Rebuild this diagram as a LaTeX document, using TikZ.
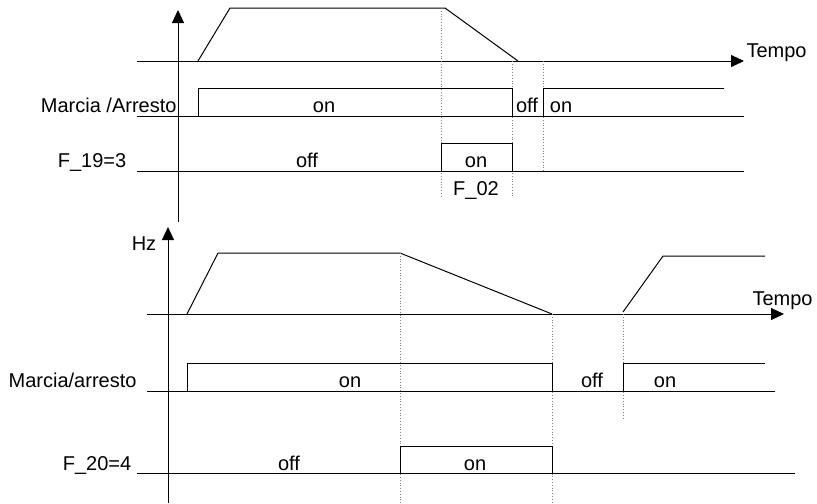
\documentclass[tikz,border=0pt]{standalone}
\usepackage{fontspec}
\setmainfont{Liberation Sans}
\usetikzlibrary{positioning,arrows.meta}
\newcommand\sigfont{\fontsize{10}{12}\selectfont}

\begin{document}
\begin{tikzpicture}[x=0.5pt,y=-0.5pt,line width=0.5pt,
  >={Triangle[length=6.5pt,width=6pt]},
  every node/.style={font=\sigfont,inner sep=0pt,anchor=base},
  guide/.style={densely dotted,gray,line width=0.4pt}]
\useasboundingbox (0,0) rectangle (817,503);
% upper chart
\coordinate (uy0) at (178,222);
\coordinate (uy1) at (178,10);
\coordinate (ut0) at (137,61);
\coordinate (ut1) at (744,61);
\draw[->] (uy0) -- (uy1);
\draw[->] (ut0) -- (ut1);
\node[anchor=base west] (utempo) at (746,57) {Tempo};
\draw (198,61) -- (230,8) -- (445,8) -- (518,61);
\draw[guide] (441,8) -- (441,198);
\draw[guide] (512,61) -- (512,198);
\draw[guide] (543,61) -- (543,171);
% Marcia /Arresto
\node[anchor=base east] (umar) at (177,112) {Marcia /Arresto};
\draw (137,116) -- (744,116);
\draw (198,116) -- (198,88) -- (512,88) -- (512,116);
\draw (543,116) -- (543,88) -- (724,88);
\node (uon) at (324,112) {on};
\node (uoff) at (527,112) {off};
\node (uon2) at (561,112) {on};
% F_19
\node (uf19) at (92,167) {F\_19=3};
\draw (137,171) -- (744,171);
\draw (441,171) -- (441,143) -- (512,143) -- (512,171);
\node (uoff2) at (307,167) {off};
\node (uon3) at (476,167) {on};
\node (uf02) at (476,195) {F\_02};
% lower chart
\coordinate (ly0) at (168,503);
\coordinate (ly1) at (168,227);
\coordinate (lt0) at (147,314);
\coordinate (lt1) at (784,314);
\draw[->] (ly0) -- (ly1);
\draw[->] (lt0) -- (lt1);
\node (lhz) at (144,250) {Hz};
\node[anchor=base west] (ltempo) at (752,305) {Tempo};
\draw (187,314) -- (218,253) -- (400,253) -- (552,314);
\draw (623,312) -- (663,256) -- (765,256);
\draw[guide] (400,253) -- (400,503);
\draw[guide] (552,314) -- (552,503);
\draw[guide] (623,314) -- (623,418);
% Marcia/arresto
\node[anchor=base east] (lmar) at (137,387) {Marcia/arresto};
\draw (147,391) -- (775,391);
\draw (187,391) -- (187,363) -- (552,363) -- (552,391);
\draw (623,391) -- (623,363) -- (765,363);
\node (lon) at (350,387) {on};
\node (loff) at (592,387) {off};
\node (lon2) at (665,387) {on};
% F_20
\node (lf20) at (97,470) {F\_20=4};
\draw (137,473) -- (795,473);
\draw (400,473) -- (400,446) -- (552,446) -- (552,473);
\node (loff2) at (289,470) {off};
\node (lon3) at (475,470) {on};
\end{tikzpicture}
\end{document}
